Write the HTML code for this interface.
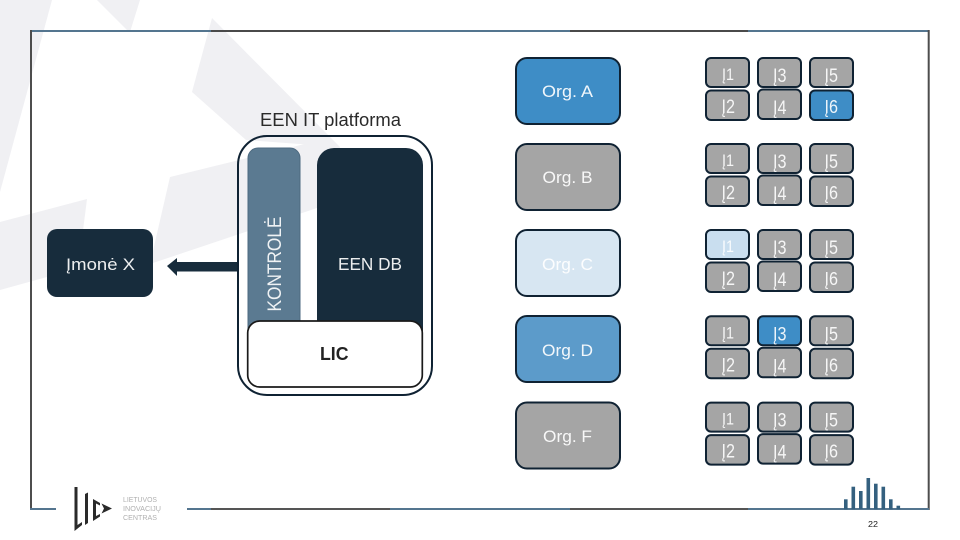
<!DOCTYPE html>
<html lang="lt">
<head>
<meta charset="utf-8">
<title>EEN IT platforma</title>
<style>
html,body{margin:0;padding:0;background:#fff;width:960px;height:540px;overflow:hidden}
svg{display:block}
text{font-family:"Liberation Sans",sans-serif}
.w{fill:#fff}
.o{fill:#fff;font-size:17px;text-anchor:middle;fill-opacity:.92}
.j{fill:#fff;font-size:17px;fill-opacity:.9}
.b{font-size:19px}
.s{font-size:18px}
.box{stroke:#0f2233;stroke-width:2}
</style>
</head>
<body>
<svg width="960" height="540" viewBox="0 0 960 540" xmlns="http://www.w3.org/2000/svg">
<!-- background shapes -->
<g fill="#f0f0f3">
<polygon points="0,0 52,0 0,192"/>
<polygon points="97,0 140,0 130,32 127,30"/>
<polygon points="212,18 192,92 246,140 340,147"/>
<polygon points="170,177 317,141 340,147 317,208 150,264"/>
<polygon points="87,199 0,222 0,290 47,277 78,270"/>
</g>
<!-- frame -->
<g fill="none" stroke-width="2">
<path d="M31 31H211M390 31H570M748 31H929" stroke="#54758f"/>
<path d="M211 31H390M570 31H748" stroke="#4a4a4a"/>
<path d="M31 30V509M928.7 30V510" stroke="#4d4d4d"/>
<path d="M30 509H56M187 509H211M390 509H570M748 509H929" stroke="#54758f"/>
<path d="M211 509H390M570 509H748" stroke="#555"/>
</g>
<!-- left node -->
<rect x="47" y="229" width="106" height="68" rx="10" fill="#172c3c"/>
<text class="w" x="66" y="270" font-size="17" textLength="69" lengthAdjust="spacingAndGlyphs" fill-opacity=".92">Įmonė X</text>
<!-- arrow -->
<polygon points="167,266 177,258 177,262 238,262 238,271.5 177,271.5 177,276" fill="#172c3c"/>
<!-- platform -->
<text x="260" y="126" font-size="18.5" fill="#2a2a2a" textLength="141" lengthAdjust="spacingAndGlyphs">EEN IT platforma</text>
<rect x="238" y="136" width="194" height="259" rx="29" fill="none" stroke="#0f2233" stroke-width="2"/>
<path d="M248 330V158a10 10 0 0 1 10-10h32a10 10 0 0 1 10 10V330Z" fill="#5b7a91" stroke="#4d6a80" stroke-width="1"/>
<path d="M317 335V165a17 17 0 0 1 17-17h72a17 17 0 0 1 17 17V335Z" fill="#172c3c"/>
<text class="w" transform="translate(281,311.5) rotate(-90)" font-size="19" textLength="95" lengthAdjust="spacingAndGlyphs" fill-opacity=".9">KONTROLĖ</text>
<text class="w" x="338" y="270" font-size="17.5" textLength="64" lengthAdjust="spacingAndGlyphs" fill-opacity=".92">EEN DB</text>
<rect x="247.7" y="321" width="174.6" height="66" rx="12" fill="#fff" stroke="#1a1a1a" stroke-width="1.7"/>
<text x="320" y="360" font-size="18" font-weight="bold" fill="#222" textLength="28.5" lengthAdjust="spacingAndGlyphs">LIC</text>
<!-- orgs -->
<g class="box">
<rect x="516" y="58" width="104" height="66" rx="11" fill="#3e8dc6"/>
<rect x="516" y="144" width="104" height="66" rx="11" fill="#a5a5a5"/>
<rect x="516" y="230" width="104" height="66" rx="11" fill="#d7e6f2"/>
<rect x="516" y="316" width="104" height="66" rx="11" fill="#5c9bca"/>
<rect x="516" y="402.5" width="104" height="66" rx="11" fill="#a5a5a5"/>
</g>
<text class="o" x="567.5" y="97" textLength="51" lengthAdjust="spacingAndGlyphs">Org. A</text>
<text class="o" x="567.5" y="183" textLength="50" lengthAdjust="spacingAndGlyphs">Org. B</text>
<text class="o" x="567.5" y="270" textLength="51" lengthAdjust="spacingAndGlyphs">Org. C</text>
<text class="o" x="567.5" y="356" textLength="51" lengthAdjust="spacingAndGlyphs">Org. D</text>
<text class="o" x="567.5" y="442" textLength="49" lengthAdjust="spacingAndGlyphs">Org. F</text>
<!-- group A -->
<g>
<g class="box" fill="#a5a5a5">
<rect x="706" y="58" width="43" height="29" rx="5"/>
<rect x="758" y="58" width="43" height="29" rx="5"/>
<rect x="810" y="58" width="43" height="29" rx="5"/>
<rect x="706" y="90.5" width="43" height="29.5" rx="5"/>
<rect x="758" y="89.5" width="43" height="29.5" rx="5"/>
<rect x="810" y="90.5" width="43" height="29.5" fill="#3e8dc6" rx="5"/>
</g>
<text class="j" x="722" y="80" textLength="12" lengthAdjust="spacingAndGlyphs">Į1</text>
<text class="j b" x="773" y="82" textLength="13.5" lengthAdjust="spacingAndGlyphs">Į3</text>
<text class="j b" x="824.5" y="82" textLength="13.5" lengthAdjust="spacingAndGlyphs">Į5</text>
<text class="j b" x="721.5" y="113" textLength="13.5" lengthAdjust="spacingAndGlyphs">Į2</text>
<text class="j b" x="773" y="114" textLength="13.5" lengthAdjust="spacingAndGlyphs">Į4</text>
<text class="j s" x="824.5" y="113" textLength="13.5" lengthAdjust="spacingAndGlyphs">Į6</text>
</g>
<!-- group B -->
<g transform="translate(0,86)">
<g class="box" fill="#a5a5a5">
<rect x="706" y="58" width="43" height="29" rx="5"/>
<rect x="758" y="58" width="43" height="29" rx="5"/>
<rect x="810" y="58" width="43" height="29" rx="5"/>
<rect x="706" y="90.5" width="43" height="29.5" rx="5"/>
<rect x="758" y="89.5" width="43" height="29.5" rx="5"/>
<rect x="810" y="90.5" width="43" height="29.5" rx="5"/>
</g>
<text class="j" x="722" y="80" textLength="12" lengthAdjust="spacingAndGlyphs">Į1</text>
<text class="j b" x="773" y="82" textLength="13.5" lengthAdjust="spacingAndGlyphs">Į3</text>
<text class="j b" x="824.5" y="82" textLength="13.5" lengthAdjust="spacingAndGlyphs">Į5</text>
<text class="j b" x="721.5" y="113" textLength="13.5" lengthAdjust="spacingAndGlyphs">Į2</text>
<text class="j b" x="773" y="114" textLength="13.5" lengthAdjust="spacingAndGlyphs">Į4</text>
<text class="j s" x="824.5" y="113" textLength="13.5" lengthAdjust="spacingAndGlyphs">Į6</text>
</g>
<!-- group C -->
<g transform="translate(0,172)">
<g class="box" fill="#a5a5a5">
<rect x="706" y="58" width="43" height="29" rx="5" fill="#c9deef"/>
<rect x="758" y="58" width="43" height="29" rx="5"/>
<rect x="810" y="58" width="43" height="29" rx="5"/>
<rect x="706" y="90.5" width="43" height="29.5" rx="5"/>
<rect x="758" y="89.5" width="43" height="29.5" rx="5"/>
<rect x="810" y="90.5" width="43" height="29.5" rx="5"/>
</g>
<text class="j" x="722" y="80" textLength="12" lengthAdjust="spacingAndGlyphs">Į1</text>
<text class="j b" x="773" y="82" textLength="13.5" lengthAdjust="spacingAndGlyphs">Į3</text>
<text class="j b" x="824.5" y="82" textLength="13.5" lengthAdjust="spacingAndGlyphs">Į5</text>
<text class="j b" x="721.5" y="113" textLength="13.5" lengthAdjust="spacingAndGlyphs">Į2</text>
<text class="j b" x="773" y="114" textLength="13.5" lengthAdjust="spacingAndGlyphs">Į4</text>
<text class="j s" x="824.5" y="113" textLength="13.5" lengthAdjust="spacingAndGlyphs">Į6</text>
</g>
<!-- group D -->
<g transform="translate(0,258.3)">
<g class="box" fill="#a5a5a5">
<rect x="706" y="58" width="43" height="29" rx="5"/>
<rect x="758" y="58" width="43" height="29" rx="5" fill="#3e8dc6"/>
<rect x="810" y="58" width="43" height="29" rx="5"/>
<rect x="706" y="90.5" width="43" height="29.5" rx="5"/>
<rect x="758" y="89.5" width="43" height="29.5" rx="5"/>
<rect x="810" y="90.5" width="43" height="29.5" rx="5"/>
</g>
<text class="j" x="722" y="80" textLength="12" lengthAdjust="spacingAndGlyphs">Į1</text>
<text class="j b" x="773" y="82" textLength="13.5" lengthAdjust="spacingAndGlyphs">Į3</text>
<text class="j b" x="824.5" y="82" textLength="13.5" lengthAdjust="spacingAndGlyphs">Į5</text>
<text class="j b" x="721.5" y="113" textLength="13.5" lengthAdjust="spacingAndGlyphs">Į2</text>
<text class="j b" x="773" y="114" textLength="13.5" lengthAdjust="spacingAndGlyphs">Į4</text>
<text class="j s" x="824.5" y="113" textLength="13.5" lengthAdjust="spacingAndGlyphs">Į6</text>
</g>
<!-- group F -->
<g transform="translate(0,344.6)">
<g class="box" fill="#a5a5a5">
<rect x="706" y="58" width="43" height="29" rx="5"/>
<rect x="758" y="58" width="43" height="29" rx="5"/>
<rect x="810" y="58" width="43" height="29" rx="5"/>
<rect x="706" y="90.5" width="43" height="29.5" rx="5"/>
<rect x="758" y="89.5" width="43" height="29.5" rx="5"/>
<rect x="810" y="90.5" width="43" height="29.5" rx="5"/>
</g>
<text class="j" x="722" y="80" textLength="12" lengthAdjust="spacingAndGlyphs">Į1</text>
<text class="j b" x="773" y="82" textLength="13.5" lengthAdjust="spacingAndGlyphs">Į3</text>
<text class="j b" x="824.5" y="82" textLength="13.5" lengthAdjust="spacingAndGlyphs">Į5</text>
<text class="j b" x="721.5" y="113" textLength="13.5" lengthAdjust="spacingAndGlyphs">Į2</text>
<text class="j b" x="773" y="114" textLength="13.5" lengthAdjust="spacingAndGlyphs">Į4</text>
<text class="j s" x="824.5" y="113" textLength="13.5" lengthAdjust="spacingAndGlyphs">Į6</text>
</g>
<!-- logo -->
<g fill="#2a2a2a">
<polygon points="74.5,487 77.5,487 77.5,525 82,522 82,525 74.5,531"/>
<polygon points="85,494 88,492.5 88,523 85,525"/>
<polygon points="93,499 100,503 100,505.5 96,503.5 96,516 100,514 100,516.5 93,521"/>
<polygon points="101.5,503.5 112,508.5 101.5,513.5 104,508.5"/>
</g>
<g fill="#b0b0b0" font-size="7.5">
<text x="123" y="502" textLength="34" lengthAdjust="spacingAndGlyphs">LIETUVOS</text>
<text x="123" y="511" textLength="38" lengthAdjust="spacingAndGlyphs">INOVACIJŲ</text>
<text x="123" y="520" textLength="34" lengthAdjust="spacingAndGlyphs">CENTRAS</text>
</g>
<!-- bars -->
<g fill="#34607f">
<rect x="844" y="499.3" width="3.6" height="10"/>
<rect x="851.5" y="486.7" width="3.6" height="22.5"/>
<rect x="859" y="491" width="3.6" height="18"/>
<rect x="866.5" y="478" width="3.6" height="31"/>
<rect x="874" y="483.7" width="3.6" height="25.5"/>
<rect x="881.5" y="486.7" width="3.6" height="22.5"/>
<rect x="889" y="499.3" width="3.6" height="10"/>
<rect x="896.5" y="505.7" width="3.6" height="3.5"/>
</g>
<text x="868" y="527" font-size="8" fill="#222" textLength="10" lengthAdjust="spacingAndGlyphs">22</text>
</svg>
</body>
</html>
